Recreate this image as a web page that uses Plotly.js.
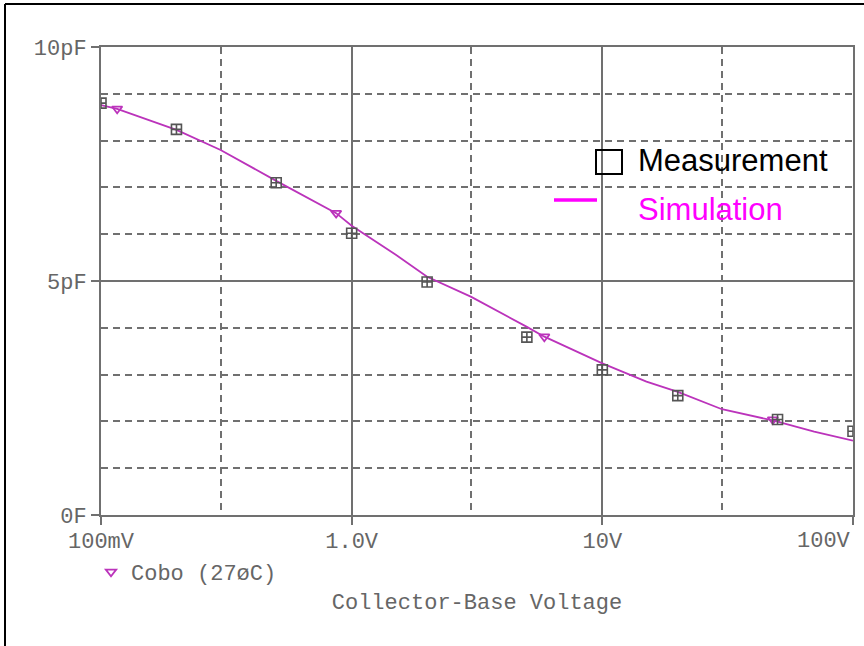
<!DOCTYPE html>
<html>
<head>
<meta charset="utf-8">
<script src="https://cdn.plot.ly/plotly-3.0.1.min.js"></script>
<style>
html,body{margin:0;padding:0;background:#fff;}
#chart{width:864px;height:646px;}
</style>
</head>
<body>
<div id="chart"></div>
<script>
// Measured points (V, pF)
const measV = [0.1, 0.2, 0.5, 1, 2, 5, 10, 20, 50, 100];
const measC = [8.80, 8.24, 7.10, 6.02, 4.98, 3.80, 3.10, 2.55, 2.04, 1.79];

// Simulated curve (V, pF)
const simV = [0.1, 0.116, 0.2, 0.3, 0.5, 0.867, 1, 1.5, 2, 3, 5, 5.87, 10, 15, 20, 30, 47.9, 70, 100];
const simC = [8.76, 8.68, 8.23, 7.80, 7.14, 6.45, 6.18, 5.56, 5.09, 4.66, 4.02, 3.81, 3.24, 2.85, 2.63, 2.26, 2.02, 1.78, 1.59];

// Marker positions on the simulated curve
const triV = [0.116, 0.867, 5.87, 47.9];
const triC = [8.68, 6.45, 3.81, 2.04];

const xTickVals = [0.1, 1, 10, 100];
const xTickText = ['100mV', '1.0V', '10V', ''];
const xLastTick = '100V';
const xMinorVals = [0.3, 3, 30];
const yTickVals = [0, 5, 10];
const yTickText = ['0F', '5pF', '10pF'];

const axisGray = '#707070';
const labelGray = '#666666';
const curveColor = '#bb33bb';
const mono = 'Liberation Mono, Courier New, monospace';

// plot box in pixels: left 101, right 853, top 47, bottom 515
const PL = 101, PR = 853, PT = 47, PB = 515;
const px = v => (v - PL) / (PR - PL);
const py = v => (PB - v) / (PB - PT);

const traces = [
  {
    x: simV, y: simC, type: 'scatter', mode: 'lines',
    line: {color: curveColor, width: 1.8},
    showlegend: false, hoverinfo: 'skip'
  },
  {
    x: triV, y: triC, type: 'scatter', mode: 'markers',
    name: 'Cobo (27øC)',
    marker: {symbol: 'triangle-down-open', size: 9, color: curveColor, line: {width: 1.8, color: curveColor}},
    showlegend: true
  },
  {
    x: measV, y: measC, type: 'scatter', mode: 'markers',
    name: 'Measurement',
    marker: {symbol: 'square-cross-open', size: 10, color: '#555555', line: {width: 1.6, color: '#555555'}},
    showlegend: false
  }
];

const layout = {
  width: 864, height: 646,
  margin: {l: PL, r: 864 - PR, t: PT, b: 646 - PB, pad: 0},
  paper_bgcolor: '#ffffff', plot_bgcolor: '#ffffff',
  font: {family: mono, size: 22, color: labelGray},
  xaxis: {
    type: 'log', range: [-1, 2],
    tickmode: 'array', tickvals: xTickVals, ticktext: xTickText,
    ticks: 'outside', ticklen: 8, tickwidth: 2, tickcolor: axisGray,
    ticklabelstandoff: -3,
    showline: true, mirror: true, linecolor: axisGray, linewidth: 2,
    showgrid: true, gridcolor: axisGray, gridwidth: 2,
    minor: {tickmode: 'array', tickvals: xMinorVals, showgrid: true, griddash: '7px,5px', gridcolor: axisGray, gridwidth: 2, ticks: ''},
    zeroline: false,
    tickfont: {family: mono, size: 22, color: labelGray},
    title: {text: 'Collector-Base Voltage', font: {family: mono, size: 22, color: labelGray}, standoff: 39}
  },
  yaxis: {
    range: [0, 10],
    tickmode: 'array', tickvals: yTickVals, ticktext: yTickText,
    ticks: 'outside', ticklen: 8, tickwidth: 2, tickcolor: axisGray,
    showline: true, mirror: true, linecolor: axisGray, linewidth: 2,
    showgrid: true, gridcolor: axisGray, gridwidth: 2,
    minor: {dtick: 1, showgrid: true, griddash: '7px,5px', gridcolor: axisGray, gridwidth: 2, ticks: ''},
    zeroline: false,
    tickfont: {family: mono, size: 22, color: labelGray}
  },
  showlegend: true,
  legend: {
    x: px(91), y: py(551), xanchor: 'left', yanchor: 'top',
    bgcolor: 'rgba(0,0,0,0)', borderwidth: 0,
    font: {family: mono, size: 22, color: labelGray},
    itemwidth: 30
  },
  shapes: [
    // outer frame (top & left edges)
    {type: 'line', xref: 'paper', yref: 'paper', x0: px(5), x1: px(5), y0: py(700), y1: py(4), line: {color: '#000', width: 2}},
    {type: 'line', xref: 'paper', yref: 'paper', x0: px(5), x1: px(900), y0: py(4), y1: py(4), line: {color: '#000', width: 2}},
    // custom key: measurement square
    {type: 'rect', xref: 'paper', yref: 'paper', x0: px(596), x1: px(622), y0: py(174), y1: py(150), line: {color: '#000', width: 2}, fillcolor: 'rgba(255,255,255,0)'},
    // custom key: simulation line
    {type: 'line', xref: 'paper', yref: 'paper', x0: px(554), x1: px(597), y0: py(200), y1: py(200), line: {color: '#ff00ff', width: 3.5}}
  ],
  annotations: [
    {xref: 'paper', yref: 'paper', x: 1, y: py(541), xanchor: 'right', yanchor: 'middle', showarrow: false,
     text: xLastTick, font: {family: mono, size: 22, color: labelGray}},
    {xref: 'paper', yref: 'paper', x: px(636), y: py(160), xanchor: 'left', yanchor: 'middle', showarrow: false,
     text: 'Measurement', font: {family: 'Liberation Sans, Arial, sans-serif', size: 31, color: '#000000'}},
    {xref: 'paper', yref: 'paper', x: px(636), y: py(209), xanchor: 'left', yanchor: 'middle', showarrow: false,
     text: 'Simulation', font: {family: 'Liberation Sans, Arial, sans-serif', size: 31, color: '#ff00ff'}}
  ]
};

Plotly.newPlot('chart', traces, layout, {displayModeBar: false, staticPlot: true});
</script>
</body>
</html>
